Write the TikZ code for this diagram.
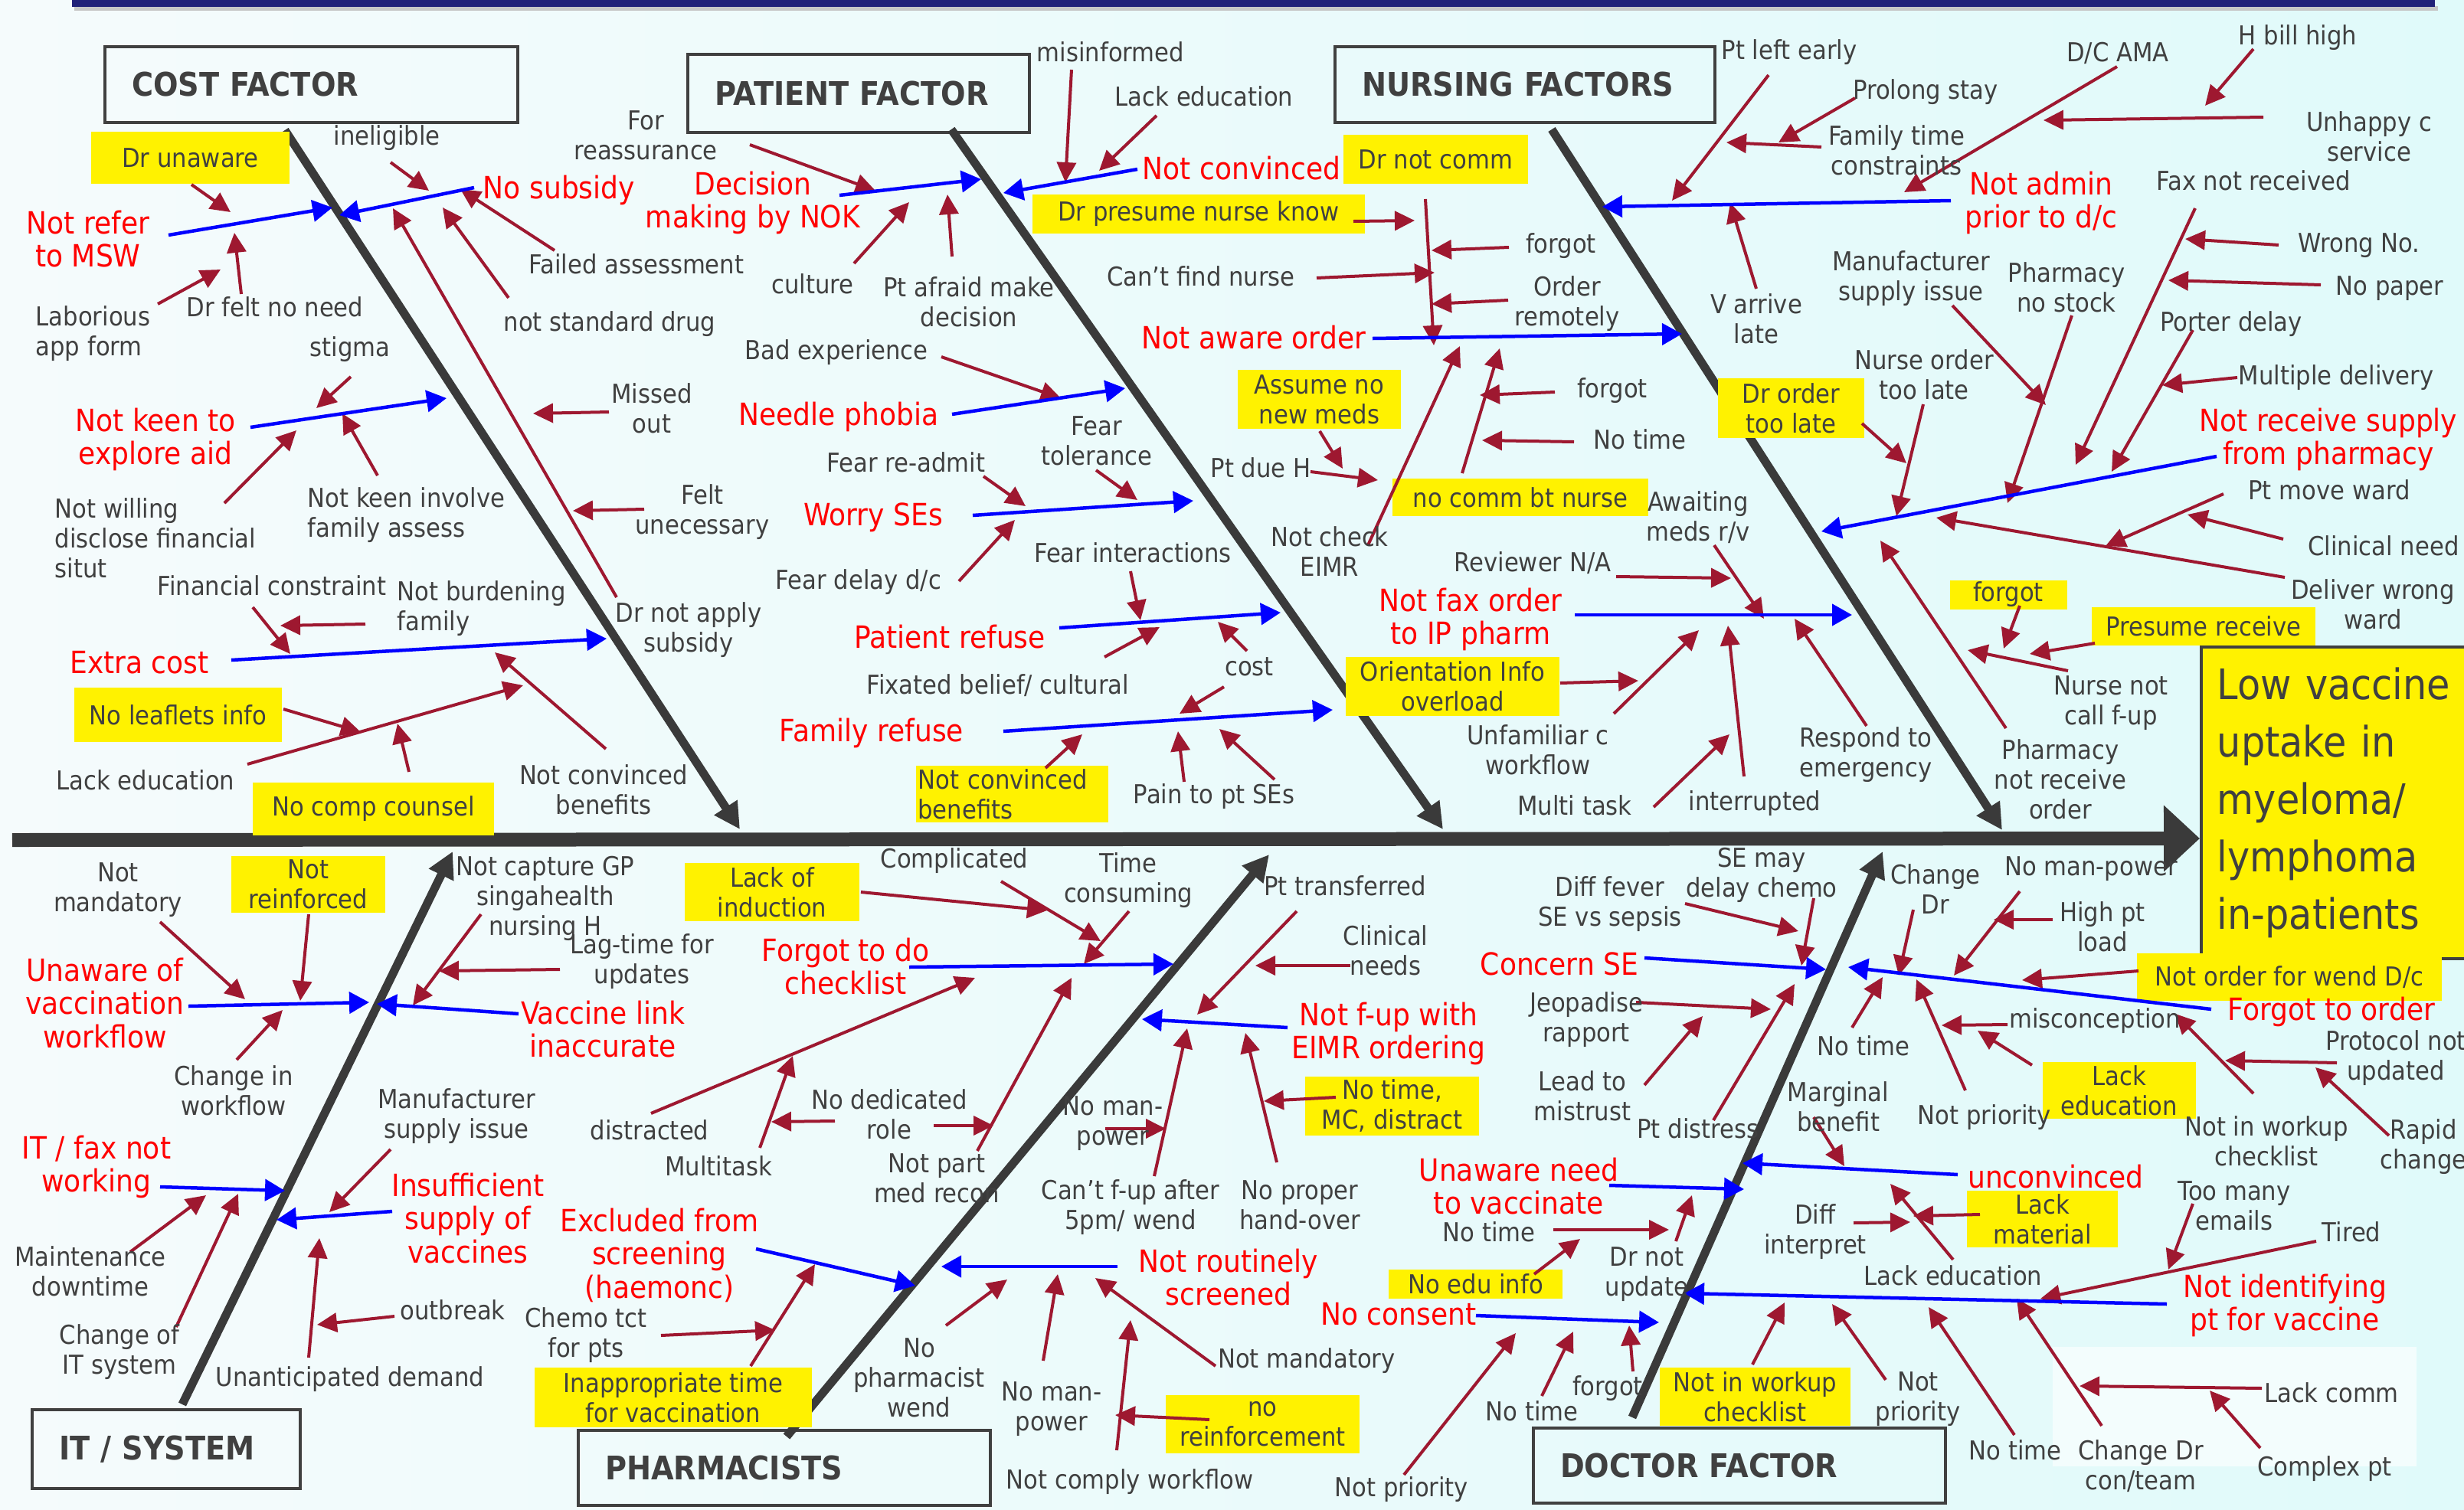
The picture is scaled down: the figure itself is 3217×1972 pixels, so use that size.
\documentclass[tikz,border=0pt]{standalone}
\usepackage{fontspec}
\setmainfont{DejaVu Sans}[FakeStretch=0.9]
\usetikzlibrary{arrows.meta}
\definecolor{tgray}{RGB}{64,64,64}
\definecolor{dred}{RGB}{158,24,48}
\definecolor{bgray}{RGB}{58,58,58}
\definecolor{navyb}{RGB}{32,32,120}
\definecolor{bgl}{RGB}{245,251,252}
\definecolor{bgr}{RGB}{224,250,250}
\definecolor{rtext}{RGB}{255,0,0}
\definecolor{blu}{RGB}{0,0,255}
\newcommand\mkar[4][rarr]{\coordinate (#2a) at (#3);\coordinate (#2b) at (#4);\draw[#1] (#2a) -- (#2b);}
\begin{document}
\begin{tikzpicture}[x=0.1mm,y=-0.1mm,
 lbl/.style={text=tgray,font=\fontsize{9.7}{11.1}\selectfont,align=center,inner sep=0pt},
 llbl/.style={lbl,align=left,anchor=west},
 rlbl/.style={text=rtext,font=\fontsize{11.4}{12.4}\selectfont,align=center,inner sep=0pt},
 ybox/.style={fill=yellow,text=tgray,font=\fontsize{9.7}{11.1}\selectfont,align=center,inner sep=0pt},
 tbox/.style={draw=tgray,line width=0.35mm,text=tgray,font=\bfseries\fontsize{12.1}{14}\selectfont,align=left,inner xsep=3.5mm,inner ysep=0pt},
 rarr/.style={draw=dred,line width=0.4mm,-{Triangle[length=2.6mm,width=2.5mm]}},
 barr/.style={draw=blu,line width=0.45mm,-{Triangle[length=2.6mm,width=2.8mm]}},
 bone/.style={draw=bgray,line width=1.1mm,-{Triangle[length=3.4mm,width=3.4mm]}},
 effectbox/.style={fill=yellow,draw=tgray,line width=0.35mm,anchor=north west,minimum height=40.7mm,text width=34.6mm,inner xsep=2.1mm,align=left,text=tgray,font=\fontsize{15.6}{21.3}\selectfont}
]
\useasboundingbox (0,0) rectangle (3217,1972);
\begin{scope}
\clip (0,0) rectangle (3217,1972);
\shade[left color=bgl,right color=bgr] (0,0) rectangle (3217,1972);
\fill[white!60!bgr] (2680,1759) rectangle (3155,1915);
\fill[gray!45] (97,8) rectangle (3183,14);
\fill[navyb] (94,0) rectangle (3179,9);

% spine
\coordinate (spS) at (16,1097);
\coordinate (spE) at (2872,1095);
\draw[draw=bgray,line width=1.8mm,-{Triangle[length=4.7mm,width=8.4mm]}] (spS) -- (spE);

% effect
\node[effectbox] (effect) at (2872,843) {Low vaccine\\uptake in\\myeloma/\\lymphoma\\in-patients};

% title boxes
\node[tbox,text width=46.9mm,minimum height=9.9mm] (tcost) at (406.5,110.5) {COST FACTOR};
\node[tbox,text width=37.6mm,minimum height=10.2mm] (tpat) at (1121,122) {PATIENT FACTOR};
\node[tbox,text width=42.6mm,minimum height=9.9mm] (tnurse) at (1991,110.5) {NURSING FACTORS};
\node[tbox,text width=28mm,minimum height=10.3mm] (tit) at (217,1892.5) {IT / SYSTEM};
\node[tbox,text width=46.8mm,minimum height=9.8mm] (tpharm) at (1024,1917) {PHARMACISTS};
\node[tbox,text width=46.8mm,minimum height=9.8mm] (tdoc) at (2271,1914) {DOCTOR FACTOR};

% bones
\mkar[bone]{bc}{372,170}{966,1083}
\mkar[bone]{bp}{1242,169}{1884,1083}
\mkar[bone]{bn}{2026,169}{2614,1084}
\mkar[bone]{bi}{238,1834}{591,1112}
\mkar[bone]{bh}{1027,1876}{1657,1116}
\mkar[bone]{bd}{2131,1851}{2458,1112}

% yellow boxes
\node[ybox,minimum width=25.9mm,minimum height=6.8mm] (ydrunaware) at (248.5,206) {Dr unaware};
\node[ybox,minimum width=27.1mm,minimum height=7.1mm] (yleaflets) at (232.5,933.5) {No leaflets info};
\node[ybox,minimum width=31.5mm,minimum height=6.9mm] (ycomp) at (487.5,1056.5) {No comp counsel};
\node[ybox,minimum width=24.1mm,minimum height=6.4mm] (ydrnotcomm) at (1874.5,208) {Dr not comm};
\node[ybox,minimum width=43.4mm,minimum height=5.1mm] (ypresume) at (1565,279.5) {Dr presume nurse know};
\node[ybox,minimum width=21.3mm,minimum height=7.7mm] (yassume) at (1722.5,521.5) {Assume no\\new meds};
\node[ybox,minimum width=33.4mm,minimum height=4.9mm] (ynocomm) at (1985,649.5) {no comm bt nurse};
\node[ybox,minimum width=19.1mm,minimum height=7.8mm] (ydrorder) at (2338.5,533) {Dr order\\too late};
\node[ybox,minimum width=15.3mm,minimum height=3.8mm] (yforgot) at (2622,776.5) {forgot};
\node[ybox,minimum width=29.2mm,minimum height=5.0mm] (ypresrec) at (2877,818) {Presume receive};
\node[ybox,minimum width=27.9mm,minimum height=7.7mm] (yorient) at (1896.5,896.5) {Orientation Info\\overload};
\node[ybox,minimum width=25.1mm,minimum height=7.4mm,text width=24.6mm,align=left] (ynotconv) at (1321.5,1037) {Not convinced\\benefits};
\node[ybox,minimum width=20.1mm,minimum height=7.4mm] (ynotreinf) at (402.5,1155) {Not\\reinforced};
\node[ybox,minimum width=22.8mm,minimum height=7.6mm] (ylackind) at (1008,1165) {Lack of\\induction};
\node[ybox,minimum width=36.2mm,minimum height=7.8mm] (yinapp) at (879,1825) {Inappropriate time\\for vaccination};
\node[ybox,minimum width=25.3mm,minimum height=7.6mm] (ynoreinf) at (1648.5,1860) {no\\reinforcement};
\node[ybox,minimum width=22.7mm,minimum height=7.7mm] (ynotimemc) at (1817.5,1444.5) {No time,\\MC, distract};
\node[ybox,minimum width=22.7mm,minimum height=3.8mm] (yedu) at (1926.5,1676.5) {No edu info};
\node[ybox,minimum width=24.9mm,minimum height=7.6mm] (yworkup) at (2291.5,1824) {Not in workup\\checklist};
\node[ybox,minimum width=39.8mm,minimum height=6.2mm] (ywend) at (2989,1276) {Not order for wend D/c};
\node[ybox,minimum width=20.0mm,minimum height=7.4mm] (ylackedu) at (2767,1424) {Lack\\education};
\node[ybox,minimum width=19.7mm,minimum height=7.4mm] (ylackmat) at (2666.5,1592) {Lack\\material};

% ===== COST arrows
\mkar{c1}{250,241}{301,277}
\mkar{c2}{315,384}{306,304}
\mkar{c3}{206,397}{288,352}
\mkar{c4}{510,212}{560,249}
\mkar{c5}{724,327}{601,247}
\mkar{c6}{664,389}{578,271}
\mkar{c7}{805,780}{513,272}
\mkar{c8}{795,538}{696,540}
\mkar{c9}{841,665}{748,667}
\mkar{c10}{458,492}{413,533}
\mkar{c11}{293,657}{387,562}
\mkar{c12}{493,621}{447,540}
\mkar{c13}{330,793}{379,854}
\mkar{c14}{477,815}{366,817}
\mkar{c15}{323,998}{683,895}
\mkar{c16}{370,926}{471,956}
\mkar{c17}{534,1008}{519,945}
\mkar{c18}{791,978}{646,852}
\mkar[barr]{cb1}{220,307}{434,271}
\mkar[barr]{cb2}{619,245}{443,281}
\mkar[barr]{cb3}{327,558}{583,520}
\mkar[barr]{cb4}{302,862}{792,834}

% ===== PATIENT arrows
\mkar{p1}{979,189}{1143,249}
\mkar{p2}{1115,344}{1187,264}
\mkar{p3}{1243,335}{1237,254}
\mkar{p4}{1399,91}{1391,238}
\mkar{p5}{1510,151}{1435,223}
\mkar{p6}{1861,260}{1872,451}
\mkar{p7}{1767,289}{1847,288}
\mkar{p8}{1970,323}{1869,327}
\mkar{p9}{1719,363}{1873,356}
\mkar{p10}{1969,392}{1869,397}
\mkar{p11}{1723,563}{1753,612}
\mkar{p12}{1711,616}{1799,627}
\mkar{p13}{1786,712}{1906,452}
\mkar{p14}{1909,618}{1958,455}
\mkar{p15}{2030,512}{1932,516}
\mkar{p16}{2055,577}{1935,575}
\mkar{p17}{1229,466}{1385,520}
\mkar{p18}{1284,622}{1339,661}
\mkar{p19}{1431,614}{1485,653}
\mkar{p20}{1252,759}{1325,679}
\mkar{p21}{1476,746}{1489,810}
\mkar{p22}{1442,858}{1514,819}
\mkar{p23}{1628,850}{1590,812}
\mkar{p24}{1598,897}{1540,932}
\mkar{p25}{1365,1003}{1413,959}
\mkar{p26}{1546,1021}{1538,955}
\mkar{p27}{1664,1018}{1592,952}
\mkar[barr]{pb1}{1096,255}{1281,234}
\mkar[barr]{pb2}{1485,221}{1310,252}
\mkar[barr]{pb3}{1792,442}{2196,436}
\mkar[barr]{pb4}{1243,541}{1469,507}
\mkar[barr]{pb5}{1270,673}{1558,654}
\mkar[barr]{pb6}{1383,820}{1672,800}
\mkar[barr]{pb7}{1310,955}{1740,927}

% ===== NURSING arrows
\mkar{n1}{2309,98}{2183,262}
\mkar{n2}{2422,128}{2322,186}
\mkar{n3}{2378,192}{2254,186}
\mkar{n4}{2764,87}{2486,251}
\mkar{n5}{2955,153}{2668,157}
\mkar{n6}{2942,64}{2879,138}
\mkar{n7}{2293,377}{2259,265}
\mkar{n8}{2866,272}{2710,607}
\mkar{n9}{2975,320}{2853,312}
\mkar{n10}{3030,372}{2831,366}
\mkar{n11}{2863,431}{2757,616}
\mkar{n12}{2921,493}{2823,503}
\mkar{n13}{2705,412}{2621,657}
\mkar{n14}{2549,399}{2671,529}
\mkar{n15}{2511,528}{2476,674}
\mkar{n16}{2431,553}{2489,605}
\mkar{n17}{2983,754}{2528,676}
\mkar{n18}{2903,645}{2749,713}
\mkar{n19}{2981,704}{2856,672}
\mkar{n20}{2619,951}{2455,706}
\mkar{n21}{2437,948}{2343,808}
\mkar{n22}{2700,876}{2569,849}
\mkar{n23}{2637,791}{2616,847}
\mkar{n24}{2735,840}{2650,854}
\mkar{n25}{2110,753}{2260,755}
\mkar{n26}{2238,712}{2303,808}
\mkar{n27}{2037,892}{2139,889}
\mkar{n28}{2107,932}{2218,823}
\mkar{n29}{2159,1054}{2258,959}
\mkar{n30}{2277,1014}{2256,817}
\mkar[barr]{nb1}{2547,262}{2092,270}
\mkar[barr]{nb2}{2894,596}{2378,694}
\mkar[barr]{nb3}{2056,803}{2418,803}

% ===== IT arrows
\mkar{i1}{209,1204}{320,1305}
\mkar{i2}{403,1194}{392,1307}
\mkar{i3}{309,1384}{369,1319}
\mkar{i4}{628,1194}{539,1313}
\mkar{i5}{731,1266}{573,1268}
\mkar{i6}{170,1635}{269,1561}
\mkar{i7}{230,1733}{311,1559}
\mkar{i8}{510,1501}{430,1583}
\mkar{i9}{515,1719}{414,1730}
\mkar{i10}{403,1773}{417,1617}
\mkar[barr]{ib1}{246,1314}{482,1309}
\mkar[barr]{ib2}{677,1324}{492,1311}
\mkar[barr]{ib3}{209,1550}{372,1555}
\mkar[barr]{ib4}{512,1582}{361,1593}

% ===== PHARMACISTS arrows
\mkar{h1}{1124,1165}{1367,1189}
\mkar{h2}{1307,1151}{1437,1229}
\mkar{h3}{1474,1190}{1415,1259}
\mkar{h4}{850,1454}{1273,1277}
\mkar{h5}{992,1499}{1035,1379}
\mkar{h6}{1090,1464}{1007,1465}
\mkar{h7}{1219,1470}{1297,1470}
\mkar{h8}{1276,1503}{1399,1277}
\mkar{h9}{1693,1190}{1563,1325}
\mkar{h10}{1763,1261}{1639,1261}
\mkar{h11}{1443,1474}{1522,1474}
\mkar{h12}{1507,1536}{1550,1343}
\mkar{h13}{1744,1433}{1650,1438}
\mkar{h14}{1667,1518}{1626,1349}
\mkar{h15}{863,1744}{1012,1737}
\mkar{h16}{980,1784}{1064,1651}
\mkar{h17}{1235,1731}{1315,1671}
\mkar{h18}{1362,1777}{1381,1664}
\mkar{h19}{1587,1784}{1430,1669}
\mkar{h20}{1458,1894}{1476,1724}
\mkar{h21}{1579,1854}{1456,1848}
\mkar[barr]{hb1}{1187,1263}{1532,1259}
\mkar[barr]{hb2}{1681,1342}{1491,1331}
\mkar[barr]{hb3}{987,1631}{1195,1679}
\mkar[barr]{hb4}{1459,1654}{1229,1654}

% ===== DOCTOR arrows
\mkar{d1}{2200,1180}{2348,1216}
\mkar{d2}{2368,1173}{2352,1261}
\mkar{d3}{2136,1309}{2312,1318}
\mkar{d4}{2147,1417}{2223,1327}
\mkar{d5}{2237,1463}{2343,1285}
\mkar{d6}{2792,1268}{2640,1280}
\mkar{d7}{2498,1188}{2479,1274}
\mkar{d8}{2637,1164}{2551,1274}
\mkar{d9}{2680,1201}{2603,1201}
\mkar{d10}{2418,1342}{2458,1276}
\mkar{d11}{2566,1424}{2502,1279}
\mkar{d12}{2621,1338}{2535,1339}
\mkar{d13}{2653,1391}{2582,1346}
\mkar{d14}{2942,1428}{2840,1324}
\mkar{d15}{3051,1388}{2905,1385}
\mkar{d16}{3119,1483}{3023,1394}
\mkar{d17}{2368,1459}{2408,1523}
\mkar{d18}{2420,1597}{2494,1596}
\mkar{d19}{2585,1586}{2498,1588}
\mkar{d20}{2550,1645}{2468,1546}
\mkar{d21}{3024,1621}{2664,1696}
\mkar{d22}{2863,1572}{2831,1658}
\mkar{d23}{2462,1802}{2392,1703}
\mkar{d24}{2630,1874}{2518,1707}
\mkar{d25}{2744,1862}{2633,1696}
\mkar{d26}{2953,1813}{2715,1810}
\mkar{d27}{2951,1891}{2885,1816}
\mkar{d28}{2028,1606}{2179,1606}
\mkar{d29}{2188,1621}{2209,1561}
\mkar{d30}{2003,1664}{2063,1618}
\mkar{d31}{1833,1926}{1979,1741}
\mkar{d32}{2013,1823}{2054,1739}
\mkar{d33}{2132,1791}{2127,1731}
\mkar{d34}{2288,1782}{2330,1701}
\mkar[barr]{db1}{2147,1251}{2384,1266}
\mkar[barr]{db2}{2887,1318}{2413,1263}
\mkar[barr]{db3}{2556,1534}{2275,1519}
\mkar[barr]{db4}{2829,1703}{2199,1689}
\mkar[barr]{db5}{2101,1548}{2277,1553}
\mkar[barr]{db6}{1927,1718}{2166,1727}

% ===== COST labels
\node[lbl] (lineligible) at (505,180) {ineligible};
\node[rlbl] (rnotrefer) at (115,312) {Not refer\\to MSW};
\node[lbl] (ldrfelt) at (359,401) {Dr felt no need};
\node[llbl] (llabor) at (46,436) {Laborious\\app form};
\node[rlbl] (rnosub) at (730,248) {No subsidy};
\node[lbl] (lfailed) at (831,345) {Failed assessment};
\node[lbl] (lnotstd) at (796,423) {not standard drug};
\node[lbl] (lmissed) at (851,533) {Missed\\out};
\node[lbl] (lfelt) at (917,669) {Felt\\unecessary};
\node[lbl] (lstigma) at (457,456) {stigma};
\node[rlbl] (rnotkeen) at (203,574) {Not keen to\\explore aid};
\node[llbl] (lnotkeeninv) at (401,673) {Not keen involve\\family assess};
\node[llbl] (lnotwilling) at (71,703) {Not willing\\disclose financial\\situt};
\node[lbl] (lfincon) at (355,765) {Financial constraint};
\node[llbl] (lnotburd) at (518,795) {Not burdening\\family};
\node[rlbl] (rextracost) at (182,865) {Extra cost};
\node[lbl] (llackedu1) at (190,1019) {Lack education};
\node[lbl] (lnotconv1) at (788,1031) {Not convinced\\benefits};
\node[lbl] (ldrnotapply) at (899,823) {Dr not apply\\subsidy};

% ===== PATIENT labels
\node[lbl] (lforreass) at (843,177) {For\\reassurance};
\node[rlbl] (rdecision) at (983,265) {Decision\\making by NOK};
\node[lbl] (lculture) at (1061,371) {culture};
\node[lbl] (lptafraid) at (1265,394) {Pt afraid make\\decision};
\node[lbl] (lmisinf) at (1450,68) {misinformed};
\node[lbl] (llackedu2) at (1572,126) {Lack education};
\node[rlbl] (rnotconv) at (1621,220) {Not convinced};
\node[lbl] (lcantfind) at (1568,361) {Can’t find nurse};
\node[rlbl] (rnotaware) at (1637,441) {Not aware order};
\node[lbl] (lforgot1) at (2038,321) {forgot};
\node[lbl] (lorderrem) at (2046,397) {Order\\remotely};
\node[lbl] (lptdueh) at (1646,611) {Pt due H};
\node[lbl] (lforgot2) at (2105,510) {forgot};
\node[lbl] (lnotime1) at (2141,574) {No time};
\node[lbl] (lnotcheck) at (1736,720) {Not check\\EIMR};
\node[lbl] (lbadexp) at (1092,460) {Bad experience};
\node[rlbl] (rneedle) at (1095,544) {Needle phobia};
\node[lbl] (lfeartol) at (1432,576) {Fear\\tolerance};
\node[lbl] (lfearread) at (1183,604) {Fear re-admit};
\node[rlbl] (rworry) at (1140,676) {Worry SEs};
\node[lbl] (lfeardelay) at (1121,760) {Fear delay d/c};
\node[lbl] (lfearint) at (1479,722) {Fear interactions};
\node[rlbl] (rpatref) at (1240,832) {Patient refuse};
\node[lbl] (lfixated) at (1303,895) {Fixated belief/ cultural};
\node[lbl] (lcost) at (1631,871) {cost};
\node[rlbl] (rfamref) at (1138,957) {Family refuse};
\node[lbl] (lpain) at (1585,1040) {Pain to pt SEs};

% ===== NURSING labels
\node[lbl] (lptleft) at (2336,68) {Pt left early};
\node[lbl] (lprolong) at (2514,120) {Prolong stay};
\node[lbl] (lfamtime) at (2476,196) {Family time\\constraints};
\node[lbl] (ldcama) at (2765,69) {D/C AMA};
\node[lbl] (lhbill) at (3000,49) {H bill high};
\node[lbl] (lunhappy) at (3093,178) {Unhappy c\\service};
\node[lbl] (lfaxnot) at (2942,236) {Fax not received};
\node[rlbl] (rnotadmin) at (2665,265) {Not admin\\prior to d/c};
\node[lbl] (lvarrive) at (2293,416) {V arrive\\late};
\node[lbl] (lmanuf1) at (2495,364) {Manufacturer\\supply issue};
\node[lbl] (lpharmno) at (2698,375) {Pharmacy\\no stock};
\node[lbl] (lnurseord) at (2512,489) {Nurse order\\too late};
\node[lbl] (lwrongno) at (3080,321) {Wrong No.};
\node[lbl] (lnopaper) at (3120,377) {No paper};
\node[lbl] (lporter) at (2913,423) {Porter delay};
\node[lbl] (lmultdel) at (3050,493) {Multiple delivery};
\node[rlbl] (rnotrecv) at (3040,574) {Not receive supply\\from pharmacy};
\node[lbl] (lptmove) at (3041,640) {Pt move ward};
\node[lbl] (lclinneed) at (3112,713) {Clinical need};
\node[lbl] (ldeliver) at (3098,789) {Deliver wrong\\ward};
\node[lbl] (lrespond) at (2436,986) {Respond to\\emergency};
\node[lbl] (lnursenot) at (2756,918) {Nurse not\\call f-up};
\node[lbl] (lpharmnot) at (2690,1018) {Pharmacy\\not receive\\order};
\node[lbl] (lawaiting) at (2217,676) {Awaiting\\meds r/v};
\node[lbl] (lreviewer) at (2001,735) {Reviewer N/A};
\node[rlbl] (rnotfax) at (1920,809) {Not fax order\\to IP pharm};
\node[lbl] (lunfam) at (2008,979) {Unfamiliar c\\workflow};
\node[lbl] (lmultitask) at (2056,1052) {Multi task};
\node[lbl] (linterrupt) at (2291,1049) {interrupted};

% ===== IT labels
\node[lbl] (lnotmand1) at (154,1162) {Not\\mandatory};
\node[lbl] (lnotcapt) at (712,1173) {Not capture GP\\singahealth\\nursing H};
\node[lbl] (llagtime) at (838,1256) {Lag-time for\\updates};
\node[rlbl] (runaware) at (137,1310) {Unaware of\\vaccination\\workflow};
\node[rlbl] (rvlink) at (787,1344) {Vaccine link\\inaccurate};
\node[lbl] (lchangein) at (305,1424) {Change in\\workflow};
\node[rlbl] (ritfax) at (126,1524) {IT / fax not\\working};
\node[lbl] (lmaint) at (118,1660) {Maintenance\\downtime};
\node[lbl] (lchangeit) at (156,1766) {Change of\\IT system};
\node[lbl] (lmanuf2) at (596,1458) {Manufacturer\\supply issue};
\node[rlbl] (rinsuff) at (611,1591) {Insufficient\\supply of\\vaccines};
\node[lbl] (loutbreak) at (591,1711) {outbreak};
\node[lbl] (lunantic) at (457,1801) {Unanticipated demand};

% ===== PHARMACISTS labels
\node[lbl] (lcomplic) at (1246,1124) {Complicated};
\node[lbl] (ltimecons) at (1473,1150) {Time\\consuming};
\node[rlbl] (rforgotcheck) at (1104,1262) {Forgot to do\\checklist};
\node[lbl] (ldistracted) at (848,1476) {distracted};
\node[lbl] (lmultitask2) at (938,1523) {Multitask};
\node[lbl] (lnodedic) at (1161,1455) {No dedicated\\role};
\node[lbl] (lnotpart) at (1223,1539) {Not part\\med recon};
\node[lbl] (lpttrans) at (1756,1157) {Pt transferred};
\node[lbl] (lclinneeds) at (1809,1241) {Clinical\\needs};
\node[rlbl] (rnotfup) at (1813,1350) {Not f-up with\\EIMR ordering};
\node[lbl] (lnoman1) at (1453,1467) {No man-\\power};
\node[lbl] (lcantfup) at (1476,1577) {Can’t f-up after\\5pm/ wend};
\node[lbl] (lnoproper) at (1697,1574) {No proper\\hand-over};
\node[rlbl] (rexcluded) at (861,1639) {Excluded from\\screening\\(haemonc)};
\node[lbl] (lchemo) at (765,1744) {Chemo tct\\for pts};
\node[rlbl] (rnotrout) at (1604,1668) {Not routinely\\screened};
\node[lbl] (lnopharm) at (1200,1799) {No\\pharmacist\\wend};
\node[lbl] (lnoman2) at (1373,1840) {No man-\\power};
\node[lbl] (lnotmand2) at (1706,1777) {Not mandatory};
\node[lbl] (lnotcomply) at (1475,1935) {Not comply workflow};
\node[lbl] (lnotprio1) at (1830,1945) {Not priority};

% ===== DOCTOR labels
\node[lbl] (ldifffever) at (2102,1181) {Diff fever\\SE vs sepsis};
\node[lbl] (lsemay) at (2300,1143) {SE may\\delay chemo};
\node[rlbl] (rconcern) at (2036,1259) {Concern SE};
\node[lbl] (ljeop) at (2071,1332) {Jeopadise\\rapport};
\node[lbl] (lleadto) at (2066,1431) {Lead to\\mistrust};
\node[lbl] (lptdistress) at (2217,1474) {Pt distress};
\node[rlbl] (rforgotorder) at (3044,1321) {Forgot to order};
\node[lbl] (lchangedr) at (2527,1161) {Change\\Dr};
\node[lbl] (lnomanpower) at (2730,1135) {No man-power};
\node[lbl] (lhighpt) at (2745,1210) {High pt\\load};
\node[lbl] (lnotime2) at (2433,1366) {No time};
\node[lbl] (lnotprio2) at (2591,1459) {Not priority};
\node[lbl] (lmisconc) at (2735,1333) {misconception};
\node[lbl] (lprotocol) at (3128,1382) {Protocol not\\updated};
\node[lbl] (lnotinwork) at (2959,1490) {Not in workup\\checklist};
\node[lbl] (lrapid) at (3164,1498) {Rapid\\change};
\node[lbl] (lmarginal) at (2400,1445) {Marginal\\benefit};
\node[rlbl] (runconv) at (2684,1537) {unconvinced};
\node[lbl] (ldiff) at (2370,1609) {Diff\\interpret};
\node[lbl] (llackedu3) at (2550,1666) {Lack education};
\node[rlbl] (rnotident) at (2983,1705) {Not identifying\\pt for vaccine};
\node[lbl] (ltoomany) at (2917,1575) {Too many\\emails};
\node[lbl] (ltired) at (3070,1609) {Tired};
\node[lbl] (lnotprio3) at (2504,1827) {Not\\priority};
\node[lbl] (lnotime3) at (2631,1894) {No time};
\node[lbl] (lchangedr2) at (2795,1915) {Change Dr\\con/team};
\node[lbl] (llackcomm) at (3044,1819) {Lack comm};
\node[lbl] (lcomplex) at (3035,1918) {Complex pt};
\node[rlbl] (runawareneed) at (1983,1549) {Unaware need\\to vaccinate};
\node[lbl] (lnotime4) at (1944,1609) {No time};
\node[lbl] (ldrnotupd) at (2150,1664) {Dr not\\update};
\node[rlbl] (rnoconsent) at (1826,1716) {No consent};
\node[lbl] (lnotime5) at (2000,1843) {No time};
\node[lbl] (lforgot3) at (2099,1813) {forgot};
\end{scope}
\end{tikzpicture}
\end{document}
